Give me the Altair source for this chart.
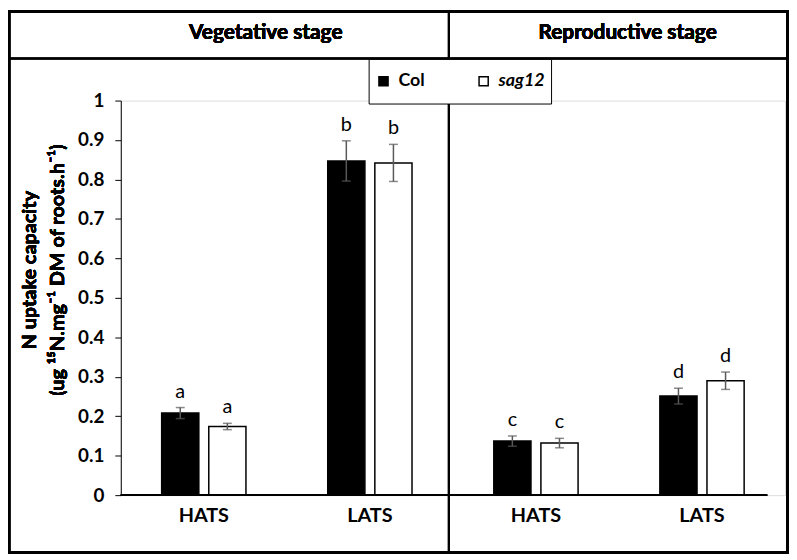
import altair as alt
import pandas as pd

# ---- data ----
stage = ["Vegetative", "Vegetative", "Vegetative", "Vegetative",
         "Reproductive", "Reproductive", "Reproductive", "Reproductive"]
system = ["HATS", "HATS", "LATS", "LATS", "HATS", "HATS", "LATS", "LATS"]
genotype = ["Col", "sag12", "Col", "sag12", "Col", "sag12", "Col", "sag12"]
mean = [0.208, 0.174, 0.847, 0.842, 0.137, 0.132, 0.251, 0.290]
err = [0.014, 0.008, 0.051, 0.047, 0.013, 0.012, 0.020, 0.022]
letters = ["a", "a", "b", "b", "c", "c", "d", "d"]

geno_order = ["Col", "sag12"]
geno_fill = ["#000000", "#ffffff"]
y_ticks = [0, 0.1, 0.2, 0.3, 0.4, 0.5, 0.6, 0.7, 0.8, 0.9, 1.0]

df = pd.DataFrame({
    "stage": stage, "system": system, "genotype": genotype,
    "mean": mean, "err": err, "letter": letters,
})
df["group"] = df["stage"].str[:3] + "-" + df["system"]
df["lo"] = df["mean"] - df["err"]
df["hi"] = df["mean"] + df["err"]
group_order = list(dict.fromkeys(df["group"]))

FONT = "Lato"
W, H = 670, 398

x_enc = alt.X("group:N", sort=group_order,
              scale=alt.Scale(paddingInner=0, paddingOuter=0),
              axis=alt.Axis(title=None, domain=False, ticks=False, labelAngle=0,
                            labelExpr="split(datum.label, '-')[1]",
                            labelFont=FONT, labelFontWeight="bold", labelFontSize=20,
                            labelColor="black", labelPadding=11))
xoff = alt.XOffset("genotype:N", sort=geno_order,
                   scale=alt.Scale(paddingInner=0.211, paddingOuter=0.868))
y_scale = alt.Scale(domain=[0, 1], nice=False)
y_axis = alt.Axis(values=y_ticks, format=".1~f", title=None, grid=False,
                  labelOverlap=False, labelFlush=False, tickCount=11,
                  domainColor="black", tickColor="black", tickSize=6,
                  labelFont=FONT, labelFontWeight="bold", labelFontSize=19,
                  labelColor="black", labelPadding=11)


def yq(field):
    return alt.Y(field, type="quantitative", scale=y_scale, axis=y_axis, title=None)


base = alt.Chart(df)

bars = base.mark_bar(stroke="black", strokeWidth=1.5).encode(
    x=x_enc,
    xOffset=xoff,
    y=yq("mean"),
    fill=alt.Fill("genotype:N", sort=geno_order,
                  scale=alt.Scale(domain=geno_order, range=geno_fill),
                  legend=alt.Legend(title=None, orient="none", direction="horizontal",
                                    legendX=250, legendY=-42,
                                    fillColor="white", strokeColor="black",
                                    padding=6, clipHeight=33,
                                    symbolType="square", symbolSize=85,
                                    symbolStrokeColor="black", symbolStrokeWidth=1.5,
                                    columnPadding=50, labelFont=FONT,
                                    labelFontWeight="bold", labelFontSize=18,
                                    labelColor="black", labelOffset=6,
                                    labelFontStyle={"expr": "datum.label == 'sag12' ? 'italic' : 'normal'"})),
)

err_rule = base.mark_rule(color="#595959", strokeWidth=1.5).encode(
    x=x_enc, xOffset=xoff, y=yq("lo"), y2="hi:Q")
cap_hi = base.mark_tick(color="#595959", thickness=1.5, size=9).encode(
    x=x_enc, xOffset=xoff, y=yq("hi"))
cap_lo = base.mark_tick(color="#595959", thickness=1.5, size=9).encode(
    x=x_enc, xOffset=xoff, y=yq("lo"))

letter_txt = base.mark_text(font=FONT, fontSize=20, baseline="bottom", dy=-6,
                            color="black").encode(
    x=x_enc, xOffset=xoff, y=yq("hi"), text="letter:N")

baseline = base.mark_rule(color="black", strokeWidth=1.2).encode(
    y=alt.datum(0, scale=y_scale, axis=y_axis), x=alt.value(0), x2=alt.value(652))

# frame lines
frame = base.mark_rect(fill=None, stroke="black", strokeWidth=2.5).encode(
    x=alt.value(-112.75), x2=alt.value(672.5), y=alt.value(-90), y2=alt.value(456))
header_line = base.mark_rule(color="black", strokeWidth=1.5).encode(
    x=alt.value(-112.75), x2=alt.value(672.5), y=alt.value(-42.5))
divider = base.mark_rule(color="black", strokeWidth=1.5).encode(
    x=alt.value(330.75), y=alt.value(-90), y2=alt.value(456))

veg_head = base.mark_text(text="Vegetative stage", font=FONT, fontWeight="bold",
                          fontSize=21, color="black").encode(
    x=alt.value(146.25), y=alt.value(-68))
rep_head = base.mark_text(text="Reproductive stage", font=FONT, fontWeight="bold",
                          fontSize=21, color="black").encode(
    x=alt.value(511.25), y=alt.value(-68))

ytitle1 = base.mark_text(text="N uptake capacity", font=FONT, fontWeight="bold",
                         fontSize=20, angle=270, color="black").encode(
    x=alt.value(-91.75), y=alt.value(171))
ytitle2 = base.mark_text(text="(ug \u00b9\u2075N.mg\u207b\u00b9 DM of roots.h\u207b\u00b9)",
                         font=FONT, fontWeight="bold", fontSize=20, angle=270,
                         color="black").encode(
    x=alt.value(-63.75), y=alt.value(171))

chart = alt.layer(
    frame, header_line, divider, veg_head, rep_head, ytitle1, ytitle2,
    bars, err_rule, cap_hi, cap_lo, letter_txt, baseline,
).properties(
    width=W, height=H,
    autosize=alt.AutoSizeParams(type="none"),
    padding={"left": 113.75, "top": 91, "right": 4, "bottom": 59},
).configure_view(stroke=None).configure(background="white")

chart.save("out.html", embed_options={"renderer": "svg", "actions": False})
